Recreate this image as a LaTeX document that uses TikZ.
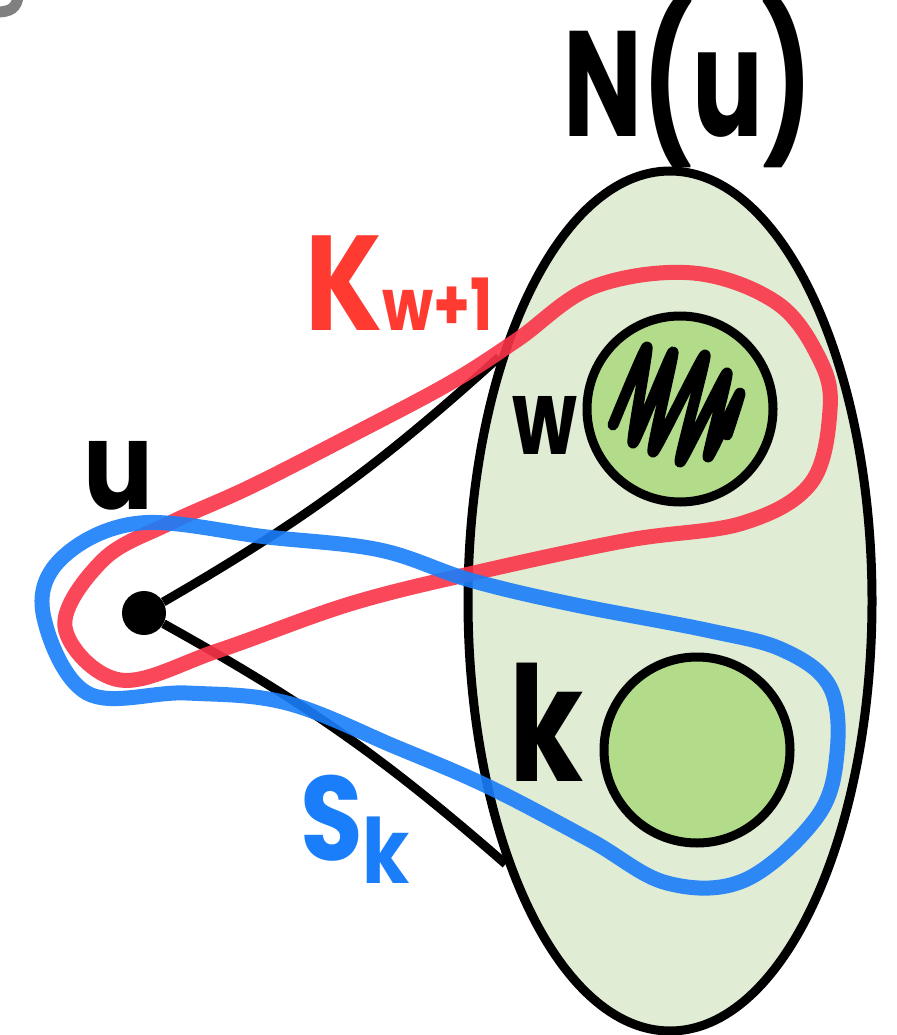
\documentclass[tikz,border=0pt]{standalone}
\usepackage{fontspec}
\newfontfamily\handfont{Poppins}
\usetikzlibrary{shapes.geometric}
\definecolor{sketchcolor0000}{RGB}{224,236,212}
\definecolor{sketchcolor0001}{RGB}{0,0,0}
\definecolor{sketchcolor0002}{RGB}{178,220,138}
\definecolor{sketchcolor0003}{RGB}{250,52,72}
\definecolor{sketchcolor0004}{RGB}{26,126,250}
\definecolor{sketchcolor0005}{RGB}{255,58,48}
\definecolor{sketchcolor0006}{RGB}{128,128,128}

\begin{document}
\begin{tikzpicture}[yscale=-1
,pstyle0/.style={draw=sketchcolor0001,fill=sketchcolor0000,line width=9pt,ellipse,inner sep=0pt,minimum width=404pt,minimum height=860pt}
,pstyle1/.style={draw=sketchcolor0001,fill=sketchcolor0002,line width=9pt,circle,inner sep=0pt,minimum size=186pt}
,pstyle2/.style={color=sketchcolor0001,line width=11pt,line cap=round,line join=round}
,pstyle3/.style={color=sketchcolor0001,line width=9pt}
,pstyle4/.style={fill=sketchcolor0001,circle,inner sep=0pt,minimum size=44pt}
,pstyle5/.style={color=sketchcolor0003,line width=15pt,opacity=0.9}
,pstyle6/.style={color=sketchcolor0004,line width=15pt,opacity=0.9}
,pstyle7/.style={inner sep=0pt,font=\handfont\bfseries}
,pstyle8/.style={color=sketchcolor0006,line width=11pt,line cap=round}
]
\useasboundingbox (0pt,0pt) rectangle (896pt,1035pt);
\draw[pstyle8] (18pt,-4pt) .. controls (17pt,8pt) and (10pt,12pt) .. (-3pt,12pt);
\node[pstyle0] (nbr) at (670pt,601pt) {};
\node[pstyle1] (w) at (680pt,409pt) {};
\node[pstyle1] (k) at (697pt,750pt) {};
\draw[pstyle2] plot[smooth,tension=0.3] coordinates {(613pt,425pt) (647pt,347pt) (633pt,443pt) (673pt,352pt) (653pt,452pt) (705pt,355pt) (680pt,462pt) (727pt,373pt) (708pt,457pt) (740pt,393pt) (727pt,435pt)};
\node[pstyle4] (u) at (144pt,613pt) {};
\draw[pstyle3] (u) to[bend left=6] (nbr.125);
\draw[pstyle3] (u) to[bend right=6] (nbr.238);
\node[pstyle7] (lblN) at (688pt,84pt) {\scalebox{0.7}[1]{\fontsize{150pt}{150pt}\selectfont N(u)}};
\node[pstyle7] (lblU) at (118pt,476pt) {\scalebox{0.85}[1]{\fontsize{122pt}{122pt}\selectfont u}};
\node[pstyle7] (lblW) at (545pt,425pt) {\scalebox{0.72}[1]{\fontsize{104pt}{104pt}\selectfont w}};
\node[pstyle7] (lblK) at (547pt,722pt) {\scalebox{0.75}[1]{\fontsize{160pt}{160pt}\selectfont k}};
\node[pstyle7,color=sketchcolor0005] (lblKw) at (399pt,283pt) {\scalebox{0.82}[1]{\fontsize{135pt}{135pt}\selectfont K\fontsize{72pt}{72pt}\selectfont w+1}};
\node[pstyle7,color=sketchcolor0004] (lblS) at (355pt,829pt) {\scalebox{0.85}[1]{\fontsize{120pt}{120pt}\selectfont S\raisebox{-23pt}{\fontsize{90pt}{90pt}\selectfont k}}};
% loops
\draw[pstyle5] plot[smooth cycle,tension=0.6] coordinates {(220pt,650pt) (353pt,603pt) (487pt,570pt) (629pt,540pt) (743pt,523pt) (811pt,483pt) (830pt,410pt) (820pt,360pt) (777pt,303pt) (693pt,273pt) (593pt,287pt) (517pt,340pt) (450pt,383pt) (350pt,436pt) (250pt,487pt) (170pt,523pt) (103pt,560pt) (65pt,627pt) (120pt,680pt)};
\draw[pstyle6] plot[smooth cycle,tension=0.6] coordinates {(43pt,613pt) (63pt,557pt) (140pt,523pt) (267pt,537pt) (380pt,550pt) (470pt,580pt) (571pt,604pt) (706pt,630pt) (783pt,650pt) (830pt,687pt) (837pt,753pt) (817pt,817pt) (745pt,880pt) (667pt,883pt) (590pt,840pt) (489pt,787pt) (396pt,747pt) (287pt,703pt) (187pt,693pt) (87pt,693pt)};
\end{tikzpicture}
\end{document}
